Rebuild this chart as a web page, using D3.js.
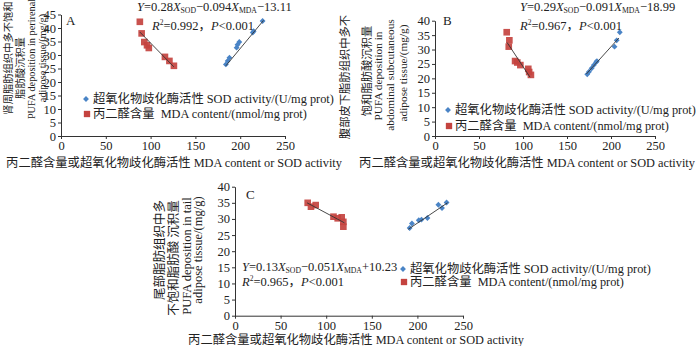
<!DOCTYPE html>
<html>
<head>
<meta charset="utf-8">
<script src="https://cdn.jsdelivr.net/npm/d3@7"></script>
<style>
  body { margin: 0; background: #fff; }
  svg text { font-family: "Liberation Serif", "Noto Sans CJK SC", serif; fill: #222; }
</style>
</head>
<body>
<svg id="chart" width="700" height="346"></svg>
<script>
// points: [SOD or MDA value, PUFA deposition mg/g]
const sodA = [[184,26.5],[186,27.8],[188,29],[196,32.7],[197,33.8],[199,34.8],[214,38.3],[215,38.8],[225,42.6]];
const mdaA = [[88,42.3],[90,38],[93,34.8],[96,33.6],[98,32.6],[116,29.3],[121,27.8],[126,26]];
const sodB = [[173,21.4],[175,22.3],[178,23.5],[180.5,24.6],[183,25.6],[184,26],[204,31],[206.5,33.2],[210,36]];
const mdaB = [[81.5,36],[84.5,33.2],[83.8,31],[91,26],[93.5,25.5],[97,24.6],[106,23.3],[107,22.2],[109,21.2]];
const sodC = [[191.5,27.2],[194,28.6],[201.5,29.6],[204.5,29.8],[211,30.3],[223,34.4],[227,33.4],[232,35.1]];
const mdaC = [[79.7,35],[83.3,33.8],[88.5,34.3],[108,30.7],[112.6,30.2],[117,30.5],[118.8,29.1],[118.8,27.6]];

// fitted lines as drawn in the figure (end points)
const sodFitA = [[184,26],[226,42.8]];
const mdaFitA = [[88,38.5],[126,25.6]];
const sodFitB = [[172,21.5],[209,34]];
const mdaFitB = [[82,32.4],[108,20.4]];
const sodFitC = [[190,26.8],[233,35]];
const mdaFitC = [[79,35],[120,28.8]];

const xTicks = [0, 50, 100, 150, 200, 250];
const yTicksA = [0, 5, 10, 15, 20, 25, 30, 35, 40, 45];
const yTicksBC = [0, 5, 10, 15, 20, 25, 30, 35, 40];

const sodLabel = "超氧化物歧化酶活性 SOD activity/(U/mg prot)";
const mdaLabel = "丙二醛含量\u00a0\u00a0MDA content/(nmol/mg prot)";
const xTitle = "丙二醛含量或超氧化物歧化酶活性 MDA content or SOD activity";

const red = "#c4433f", blue = "#4a84c6";
const svg = d3.select("#chart");

function equation(g, x, y, size, coefs) {
  const t = g.append("text").attr("x", x).attr("y", y).attr("font-size", size);
  t.append("tspan").attr("font-style", "italic").text("Y");
  t.append("tspan").text("=" + coefs[0]);
  t.append("tspan").attr("font-style", "italic").text("X");
  t.append("tspan").attr("font-size", size * 0.62).attr("dy", 2).text("SOD");
  t.append("tspan").attr("dy", -2).text("−" + coefs[1]);
  t.append("tspan").attr("font-style", "italic").text("X");
  t.append("tspan").attr("font-size", size * 0.62).attr("dy", 2).text("MDA");
  t.append("tspan").attr("dy", -2).text(coefs[2]);
}

function stats(g, x, y, size, r2) {
  const t = g.append("text").attr("x", x).attr("y", y).attr("font-size", size);
  t.append("tspan").attr("font-style", "italic").text("R");
  t.append("tspan").attr("font-size", size * 0.6).attr("dy", -5).text("2");
  t.append("tspan").attr("dy", 5).text("=" + r2 + "，");
  t.append("tspan").attr("font-style", "italic").text("P");
  t.append("tspan").text("<0.001");
}

const diamond = d3.symbol(d3.symbolSquare, 17)();
const square = d3.symbol(d3.symbolSquare, 44)();

function panel(p) {
  const x = d3.scaleLinear().domain([0, 250]).range(p.xr);
  const y = d3.scaleLinear().domain([0, p.ymax]).range(p.yr);
  const g = svg.append("g");

  const xAxis = g.append("g")
    .attr("transform", `translate(0,${p.yr[0]})`)
    .call(d3.axisBottom(x).tickValues(xTicks).tickSize(3).tickSizeOuter(0).tickPadding(2));
  const yAxis = g.append("g")
    .attr("transform", `translate(${p.xr[0]},0)`)
    .call(d3.axisLeft(y).tickValues(p.yTicks).tickSize(3).tickSizeOuter(0).tickPadding(2));
  [xAxis, yAxis].forEach(a => {
    a.selectAll("text").attr("font-size", 12.5);
    a.selectAll("path,line").attr("stroke", "#333");
  });

  // y title, rotated lines
  p.yTitle.forEach((line, i) => {
    g.append("text")
      .attr("transform", `translate(${p.titleX[i]},${p.titleY[i]}) rotate(-90)`)
      .attr("text-anchor", "middle")
      .attr("dominant-baseline", "central")
      .attr("font-size", p.titleSize)
      .text(line);
  });

  g.append("text").attr("x", p.xTitlePos[0]).attr("y", p.xTitlePos[1])
    .attr("text-anchor", "middle").attr("font-size", 12.3).text(xTitle);

  g.append("text").attr("x", p.letterPos[0]).attr("y", p.letterPos[1])
    .attr("font-size", 13).text(p.letter);

  g.selectAll(".mda").data(p.mda).enter().append("path")
    .attr("d", square)
    .attr("transform", d => `translate(${x(d[0])},${y(d[1])})`)
    .attr("fill", red).attr("fill-opacity", 0.92);
  g.selectAll(".sod").data(p.sod).enter().append("path")
    .attr("d", diamond)
    .attr("transform", d => `translate(${x(d[0])},${y(d[1])}) rotate(45)`)
    .attr("fill", blue);

  // fit lines sit over the markers
  const line = d3.line().x(d => x(d[0])).y(d => y(d[1]));
  [p.mdaFit, p.sodFit].forEach(f => {
    g.append("path").attr("d", line(f)).attr("stroke", "#333").attr("stroke-width", 0.9).attr("fill", "none");
  });

  // legend
  const [lx, ly, lgap] = p.legend;
  g.append("path").attr("d", diamond)
    .attr("transform", `translate(${lx},${ly}) rotate(45)`).attr("fill", blue);
  g.append("path").attr("d", d3.symbol(d3.symbolSquare, 40)())
    .attr("transform", `translate(${lx + 1},${ly + lgap})`).attr("fill", red);
  g.append("text").attr("x", lx + 7).attr("y", ly).attr("dominant-baseline", "central")
    .attr("font-size", 12.3).text(sodLabel);
  g.append("text").attr("x", lx + 7).attr("y", ly + lgap).attr("dominant-baseline", "central")
    .attr("font-size", 12.3).text(mdaLabel);

  equation(g, p.eq[0], p.eq[1], 12.5, p.coefs);
  stats(g, p.st[0], p.st[1], 12.5, p.r2);
}

panel({
  xr: [61, 285], yr: [136, 14.5], ymax: 45, yTicks: yTicksA,
  sod: sodA, mda: mdaA, sodFit: sodFitA, mdaFit: mdaFitA,
  yTitle: ["肾周脂肪组织中多不饱和", "脂肪酸沉积量", "PUFA deposition in perirenal", "adipose tissue/(mg/g)"],
  titleX: [8, 20, 31.5, 42], titleY: [58, 68, 59, 58], titleSize: 10.3,
  xTitlePos: [174, 167], letter: "A", letterPos: [66, 25],
  legend: [86, 99, 15],
  eq: [137, 11], coefs: ["0.28", "0.094", "−13.11"],
  st: [152, 30], r2: "0.992"
});

panel({
  xr: [435, 655], yr: [136, 20.7], ymax: 40, yTicks: yTicksBC,
  sod: sodB, mda: mdaB, sodFit: sodFitB, mdaFit: mdaFitB,
  yTitle: ["腹部皮下脂肪组织中多不", "饱和脂肪酸沉积量", "PUFA deposition in", "abdominal subcutaneous", "adipose tissue/(mg/g)"],
  titleX: [345, 366.5, 378, 390, 402.5], titleY: [77, 71, 76, 75, 73], titleSize: 11.3,
  xTitlePos: [527, 167], letter: "B", letterPos: [443, 25],
  legend: [448, 110, 16],
  eq: [520, 11], coefs: ["0.29", "0.091", "−18.99"],
  st: [520, 30], r2: "0.967"
});

panel({
  xr: [235, 463], yr: [315.7, 186.7], ymax: 40, yTicks: yTicksBC,
  sod: sodC, mda: mdaC, sodFit: sodFitC, mdaFit: mdaFitC,
  yTitle: ["尾部脂肪组织中多", "不饱和脂肪酸 沉积量", "PUFA deposition in tail", "adipose tissue/(mg/g)"],
  titleX: [160, 173.5, 186.5, 198], titleY: [250, 258, 256, 250], titleSize: 12.5,
  xTitlePos: [356, 344], letter: "C", letterPos: [246, 199],
  legend: [403, 269, 13],
  eq: [242, 271], coefs: ["0.13", "0.051", "+10.23"],
  st: [242, 286], r2: "0.965"
});
</script>
</body>
</html>
